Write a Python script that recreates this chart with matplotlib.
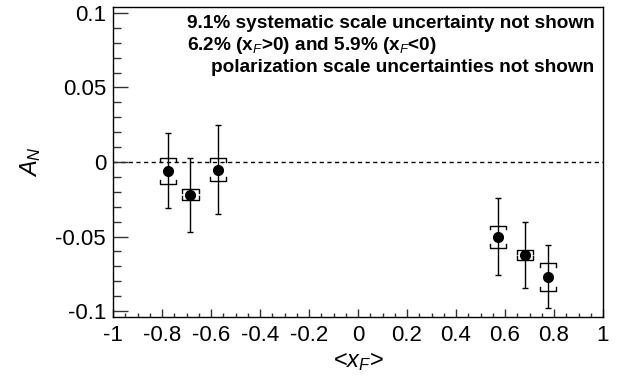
import matplotlib.pyplot as plt
from matplotlib.ticker import MultipleLocator

# <x_F> and A_N values
xf = [-0.777, -0.684, -0.570, 0.570, 0.683, 0.777]
an = [-0.0058, -0.0220, -0.0051, -0.0501, -0.0624, -0.0770]
stat_err = [0.025, 0.025, 0.030, 0.026, 0.022, 0.021]
sys_err = [0.0088, 0.0036, 0.0075, 0.0074, 0.0031, 0.0093]

xticks = [-1, -0.8, -0.6, -0.4, -0.2, 0, 0.2, 0.4, 0.6, 0.8, 1]
xticklabels = ['-1', '-0.8', '-0.6', '-0.4', '-0.2', '0', '0.2', '0.4', '0.6', '0.8', '1']
yticks = [-0.1, -0.05, 0, 0.05, 0.1]
yticklabels = ['-0.1', '-0.05', '0', '0.05', '0.1']

note_lines = ['9.1% systematic scale uncertainty not shown',
              r'6.2% (x$_{F}$>0) and 5.9% (x$_{F}$<0)',
              'polarization scale uncertainties not shown']

plt.rcParams['font.family'] = ['Liberation Sans', 'DejaVu Sans']
plt.rcParams['mathtext.fontset'] = 'custom'
plt.rcParams['mathtext.rm'] = 'Liberation Sans'
plt.rcParams['mathtext.it'] = 'Liberation Sans:italic'
plt.rcParams['mathtext.bf'] = 'Liberation Sans:bold'


def draw_brackets(ax, x, y, sys):
    # corner brackets for the systematic uncertainty
    w = 0.033
    h = 0.0025
    for xi, yi, si in zip(x, y, sys):
        top = yi + si
        bot = yi - si
        ax.plot([xi - w, xi - w, xi + w, xi + w], [top - h, top, top, top - h],
                color='black', lw=1.0, zorder=3)
        ax.plot([xi - w, xi - w, xi + w, xi + w], [bot + h, bot, bot, bot + h],
                color='black', lw=1.0, zorder=3)


def main():
    fig = plt.figure(figsize=(6.25, 3.8), dpi=100)
    ax = fig.add_axes([0.1808, 0.1658, 0.7840, 0.8158])

    ax.axhline(0, color='black', lw=1.0, ls=(0, (3, 2.5)), zorder=1)
    ax.errorbar(xf, an, yerr=stat_err, fmt='o', color='black', ms=7,
                elinewidth=1.0, capsize=2, capthick=1.0, zorder=4)
    draw_brackets(ax, xf, an, sys_err)

    ax.set_xlim(-1, 1)
    ax.set_ylim(-0.104, 0.104)
    ax.set_xticks(xticks)
    ax.set_xticklabels(xticklabels)
    ax.set_yticks(yticks)
    ax.set_yticklabels(yticklabels)
    ax.xaxis.set_minor_locator(MultipleLocator(0.05))
    ax.yaxis.set_minor_locator(MultipleLocator(0.01))
    ax.tick_params(which='both', direction='in', top=False, right=False,
                   labelsize=16, width=1.0, color='#333333')
    ax.tick_params(axis='x', which='major', length=6, pad=6)
    ax.tick_params(axis='x', which='minor', length=3)
    ax.tick_params(axis='y', which='major', length=11, pad=5)
    ax.tick_params(axis='y', which='minor', length=5.5)
    for sp in ax.spines.values():
        sp.set_linewidth(1.0)

    ax.set_xlabel(r'<$x_{F}$>', fontsize=17, labelpad=3)
    ax.set_ylabel(r'$A_{N}$', fontsize=17, labelpad=9)

    ax.text(0.151, 0.932, note_lines[0], transform=ax.transAxes,
            fontsize=13.7, fontweight='bold', va='baseline', ha='left')
    ax.text(0.151, 0.861, note_lines[1], transform=ax.transAxes,
            fontsize=13.7, fontweight='bold', va='baseline', ha='left')
    ax.text(0.982, 0.790, note_lines[2], transform=ax.transAxes,
            fontsize=13.7, fontweight='bold', va='baseline', ha='right')

    fig.savefig('out.png', dpi=100)


if __name__ == '__main__':
    main()
